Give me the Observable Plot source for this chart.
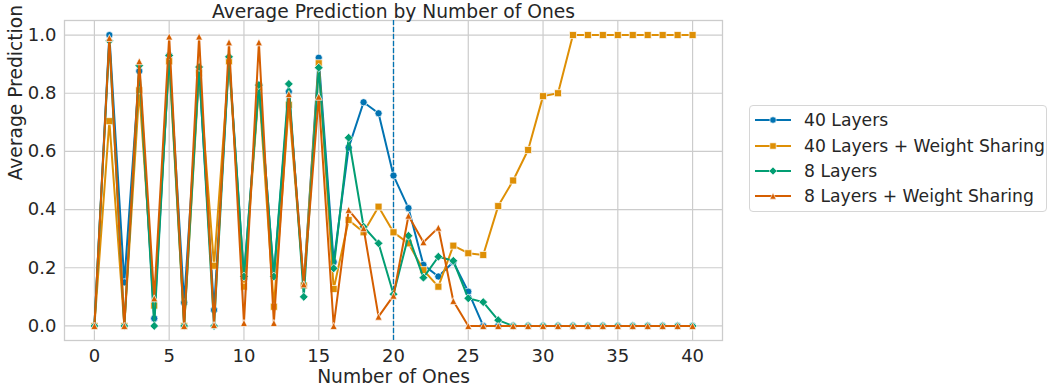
<!DOCTYPE html>
<html>
<head>
<meta charset="utf-8">
<script src="https://cdn.jsdelivr.net/npm/d3@7"></script>
<script src="https://cdn.jsdelivr.net/npm/@observablehq/plot@0.6"></script>
<style>
  body { margin: 0; background: #ffffff; font-family: "DejaVu Sans", sans-serif; }
  #wrap { position: relative; width: 1048px; height: 389px; overflow: hidden; background: #fff; }
  #legend { position: absolute; left: 749px; top: 105px; width: 298px; height: 107px;
            border: 1px solid #d6d6d6; border-radius: 4px; box-sizing: border-box; background: rgba(255,255,255,0.8); }
  .row { position: absolute; left: 0; height: 25.3px; display: flex; align-items: center;
         font-size: 17.2px; color: #262626; white-space: nowrap; }
  .row svg { margin-left: 5px; margin-right: 13px; flex: none; }
</style>
</head>
<body>
<div id="wrap"></div>
<script>
// ---------------- data ----------------
const numberOfOnes = [0,1,2,3,4,5,6,7,8,9,10,11,12,13,14,15,16,17,18,19,20,
                      21,22,23,24,25,26,27,28,29,30,31,32,33,34,35,36,37,38,39,40];

const layers40 = [0, 1.0, 0.15, 0.876, 0.026, 0.93, 0.08, 0.875, 0.055, 0.92, 0.164,
                  0.83, 0.17, 0.805, 0.14, 0.922, 0.22, 0.613, 0.769, 0.731, 0.517,
                  0.405, 0.21, 0.17, 0.22, 0.118, 0, 0, 0, 0, 0,
                  0, 0, 0, 0, 0, 0, 0, 0, 0, 0];

const layers40WS = [0, 0.704, 0, 0.81, 0.07, 0.91, 0, 0.87, 0.207, 0.91, 0.135,
                    0.82, 0.066, 0.76, 0.139, 0.903, 0.127, 0.364, 0.322, 0.41, 0.322,
                    0.284, 0.192, 0.135, 0.276, 0.25, 0.244, 0.412, 0.5, 0.605, 0.79,
                    0.8, 1.0, 1.0, 1.0, 1.0, 1.0, 1.0, 1.0, 1.0, 1.0];

const layers8 = [0, 0.98, 0, 0.895, 0, 0.93, 0, 0.89, 0, 0.925, 0.17,
                 0.828, 0.17, 0.832, 0.10, 0.888, 0.198, 0.647, 0.341, 0.284, 0.109,
                 0.31, 0.166, 0.238, 0.224, 0.095, 0.082, 0.02, 0, 0, 0,
                 0, 0, 0, 0, 0, 0, 0, 0, 0, 0];

const layers8WS = [0, 0.99, 0, 0.91, 0.095, 0.995, 0, 0.995, 0.003, 0.975, 0.01,
                   0.975, 0.01, 0.797, 0.143, 0.788, 0, 0.399, 0.336, 0.032, 0.104,
                   0.379, 0.288, 0.338, 0.086, 0, 0, 0, 0, 0, 0,
                   0, 0, 0, 0, 0, 0, 0, 0, 0, 0];

const seriesNames = ["40 Layers", "40 Layers + Weight Sharing", "8 Layers", "8 Layers + Weight Sharing"];
const seriesValues = [layers40, layers40WS, layers8, layers8WS];
const seriesColors = ["#0173b2", "#de8f05", "#029e73", "#d55e00"];

const xTicks = [0, 5, 10, 15, 20, 25, 30, 35, 40];
const yTicks = [0, 0.2, 0.4, 0.6, 0.8, 1.0];
const thresholdLine = [20];

const titleText = ["Average Prediction by Number of Ones"];
const xLabelText = ["Number of Ones"];
const yLabelText = ["Average Prediction"];

// ---------------- marker shapes ----------------
function makeSymbols(k) {
  return [
    { draw(ctx) { const r = 3.6 * k; ctx.moveTo(r, 0); ctx.arc(0, 0, r, 0, 2 * Math.PI); ctx.closePath(); } },
    { draw(ctx) { const h = 3.5 * k; ctx.rect(-h, -h, 2 * h, 2 * h); } },
    { draw(ctx) { const d = 4.4 * k; ctx.moveTo(0, -d); ctx.lineTo(d, 0); ctx.lineTo(0, d); ctx.lineTo(-d, 0); ctx.closePath(); } },
    { draw(ctx) { const s = 3.5 * k; ctx.moveTo(0, -s); ctx.lineTo(s, s); ctx.lineTo(-s, s); ctx.closePath(); } }
  ];
}
const symbols = makeSymbols(1);
const legendSymbols = makeSymbols(0.9);

// ---------------- marks ----------------
const seriesMarks = seriesNames.flatMap((name, si) => {
  const table = numberOfOnes.map((n, i) => ({n, v: seriesValues[si][i]}));
  return [
    Plot.line(table, {x: "n", y: "v", stroke: seriesColors[si], strokeWidth: 2, strokeLinejoin: "round"}),
    Plot.dot(table, {x: "n", y: "v", symbol: symbols[si], r: 3.6, fill: seriesColors[si],
                     stroke: "white", strokeWidth: 0.7})
  ];
});

const chart = Plot.plot({
  width: 1048,
  height: 389,
  marginLeft: 64,
  marginRight: 326,
  marginTop: 20,
  marginBottom: 49,
  style: {fontFamily: "DejaVu Sans", fontSize: "18px", color: "#262626", background: "white", overflow: "visible"},
  x: {domain: [-2, 42]},
  y: {domain: [-0.05, 1.05]},
  marks: [
    Plot.gridX({ticks: xTicks, stroke: "#cccccc", strokeOpacity: 1, strokeWidth: 1.2}),
    Plot.gridY({ticks: yTicks, stroke: "#cccccc", strokeOpacity: 1, strokeWidth: 1.2}),
    Plot.frame({stroke: "#cccccc", strokeWidth: 1.3}),
    Plot.axisX({ticks: xTicks, tickSize: 0, tickPadding: 8.5, fontSize: 18, label: null, fill: "#262626"}),
    Plot.axisY({ticks: yTicks, tickSize: 0, tickPadding: 8, fontSize: 18, label: null, fill: "#262626",
                tickFormat: d3.format(".1f")}),
    Plot.ruleX(thresholdLine, {stroke: "#0173b2", strokeWidth: 1.3, strokeDasharray: "5,2"}),
    ...seriesMarks,
    Plot.text(titleText, {text: d => d, frameAnchor: "top", dy: -8, lineAnchor: "middle", fontSize: 18.7, fill: "#262626"}),
    Plot.text(xLabelText, {text: d => d, frameAnchor: "bottom", dy: 37, lineAnchor: "middle", fontSize: 18.7, fill: "#262626"}),
    Plot.text(yLabelText, {text: d => d, frameAnchor: "left", rotate: -90, dx: -48, lineAnchor: "middle", fontSize: 18.7, fill: "#262626"})
  ]
});

const wrap = document.getElementById("wrap");
wrap.appendChild(chart);

// ---------------- legend ----------------
const legend = document.createElement("div");
legend.id = "legend";
seriesNames.forEach((name, si) => {
  const row = document.createElement("div");
  row.className = "row";
  row.style.top = (1.6 + si * 25.3) + "px";
  const svg = d3.create("svg").attr("width", 36).attr("height", 14);
  svg.append("line").attr("x1", 0).attr("x2", 36).attr("y1", 7).attr("y2", 7)
     .attr("stroke", seriesColors[si]).attr("stroke-width", 2);
  svg.append("path").attr("d", d3.symbol(legendSymbols[si], 30)()).attr("transform", "translate(18,7)")
     .attr("fill", seriesColors[si]).attr("stroke", "white").attr("stroke-width", 0.6);
  row.appendChild(svg.node());
  const span = document.createElement("span");
  span.textContent = name;
  row.appendChild(span);
  legend.appendChild(row);
});
wrap.appendChild(legend);
</script>
</body>
</html>
